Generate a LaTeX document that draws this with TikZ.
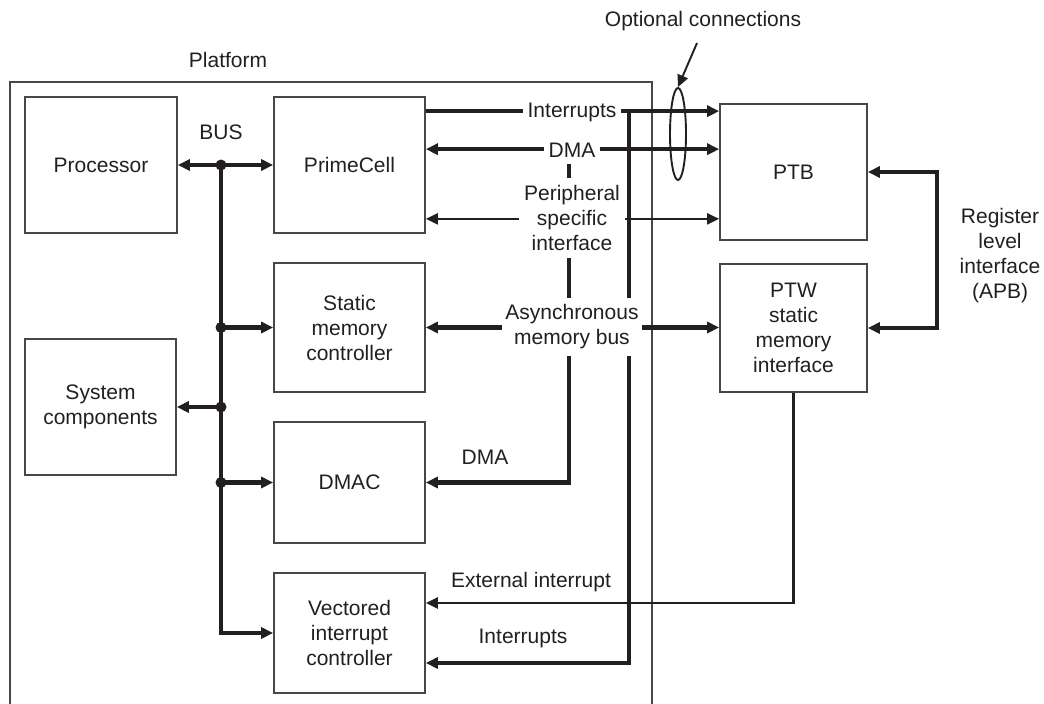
\documentclass[tikz,border=0pt]{standalone}
\usepackage{fontspec}
\setmainfont{Liberation Sans}
\usetikzlibrary{arrows.meta,shapes.geometric,calc}
\definecolor{ink}{HTML}{231F20}
\definecolor{frame}{HTML}{474747}
\tikzset{
  blk/.style={draw=frame, line width=1.7pt, align=center, text=ink, inner sep=0pt},
  bus/.style={draw=ink, line width=4.2pt},
  wire/.style={draw=ink, line width=2.4pt},
  lbl/.style={fill=white, text=ink, align=center, inner xsep=5pt, inner ysep=7pt},
  txt/.style={text=ink, align=center},
  dot/.style={fill=ink}
}
\begin{document}
\begin{tikzpicture}[x=1pt, y=-1pt,
  font=\fontsize{21}{25}\selectfont,
  >={Triangle[length=12pt,width=11pt]}]
\useasboundingbox (0,0) rectangle (1044,704);

% platform frame (open at the bottom edge)
\draw[frame, line width=2pt] (10,704) -- (10,82) -- (652,82) -- (652,704);
\node[txt] (plat) at (228,60) {Platform};

% blocks
\node[blk, minimum width=152pt, minimum height=136pt] (proc)  at (101,165)   {Processor};
\node[blk, minimum width=151pt, minimum height=136pt] (prime) at (349.5,165) {PrimeCell};
\node[blk, minimum width=151pt, minimum height=129pt] (smc)   at (349.5,327.5) {Static\\memory\\controller};
\node[blk, minimum width=151pt, minimum height=136pt] (sys)   at (100.5,407) {System\\components};
\node[blk, minimum width=151pt, minimum height=121pt] (dmac)  at (349.5,482.5) {DMAC};
\node[blk, minimum width=151pt, minimum height=120pt] (vic)   at (349.5,633) {Vectored\\interrupt\\controller};
\node[blk, minimum width=147pt, minimum height=136pt] (ptb)   at (793.5,172) {PTB};
\node[blk, minimum width=147pt, minimum height=128pt] (ptw)   at (793.5,328) {PTW\\static\\memory\\interface};

% system bus
\coordinate (j1) at (221,165);
\coordinate (j2) at (j1 |- smc.west);
\coordinate (j3) at (j1 |- sys.east);
\coordinate (j4) at (j1 |- dmac.west);
\draw[bus,<->] (proc.east) -- (prime.west);
\draw[bus,->] (j1) |- (vic.west);
\draw[bus,->] (j2) -- (smc.west);
\draw[bus,->] (j3) -- (sys.east);
\draw[bus,->] (j4) -- (dmac.west);
\foreach \j in {j1,j2,j3,j4} \fill[dot] (\j) circle (5.5pt);
\node[txt] (lbus) at (221,132) {BUS};

% interrupt line from the PrimeCell, with its branch to the VIC
\coordinate (irqL) at ([yshift=-15pt]prime.north east);
\coordinate (irqV) at (629,112);
\draw[bus,->] (irqV) |- ([yshift=-30pt]vic.east);
\draw[bus,->] (irqL) -- (irqL -| ptb.west);

% DMA request lines
\coordinate (dmaL) at ([yshift=-53pt]prime.north east);
\coordinate (dmaV) at (569,150);
\draw[bus,->] (dmaV) |- (dmac.east);
\draw[bus,<->] (dmaL) -- (dmaL -| ptb.west);

% peripheral specific interface
\coordinate (psiL) at ([yshift=15pt]prime.south east);
\draw[wire,<->] (psiL) -- (psiL -| ptb.west);

% asynchronous memory bus
\draw[bus,<->] (smc.east) -- (smc.east -| ptw.west);

% register level interface
\draw[bus,<->] (ptb.east) -- ++(69,0) |- (ptw.east);

% external interrupt
\draw[wire,->] (ptw.south) |- ([yshift=30pt]vic.east);

% labels on the lines
\node[lbl] (lirq) at (572,112) {Interrupts};
\node[lbl] (ldma) at (572,150) {DMA};
\node[lbl] (lpsi) at (572,218) {Peripheral\\specific\\interface};
\node[lbl, inner xsep=3pt] (lamb) at (572,327) {Asynchronous\\memory bus};
\node[txt] (ldma2) at (485,457) {DMA};
\node[txt] (lext) at (531,582) {External interrupt};
\node[txt] (lirq2) at (523,638) {Interrupts};
\node[txt] (lreg) at (1000,256) {Register\\level\\interface\\(APB)};

% optional connections marker
\node[draw=ink, ellipse, line width=1.9pt, minimum width=16pt, minimum height=92pt, inner sep=0pt] (opt) at (678,134) {};
\node[txt] (lopt) at (703,21) {Optional connections};
\coordinate (optTail) at (697,43);
\draw[wire, line width=1.9pt, ->] (optTail) -- (opt.north);
\end{tikzpicture}
\end{document}
